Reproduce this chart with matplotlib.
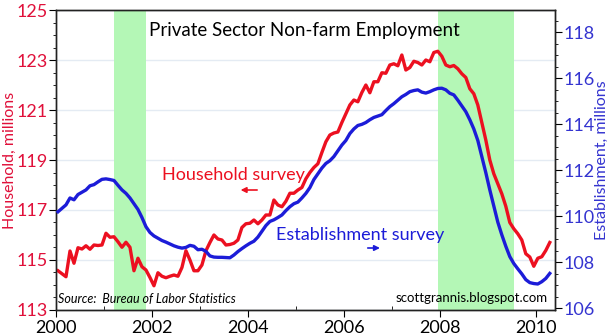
import numpy as np
import pandas as pd
import matplotlib
matplotlib.use('Agg')
import matplotlib.pyplot as plt
from matplotlib.ticker import MultipleLocator

plt.rcParams['font.family'] = ['Lato', 'DejaVu Sans']

# Meses: jan/2000 a abr/2010
meses = pd.date_range('2000-01-01', '2010-04-01', freq='MS')
anos = meses.year + (meses.month - 0.5) / 12

# Household survey (milhoes) - eixo esquerdo
household = [
    114.57, 114.45, 114.33, 115.36, 114.87, 115.49, 115.44, 115.57, 115.43, 115.60, 115.58, 115.60,
    116.07, 115.91, 115.93, 115.73, 115.51, 115.71, 115.51, 114.57, 115.07, 114.73, 114.60, 114.30,
    113.97, 114.49, 114.35, 114.29, 114.35, 114.40, 114.35, 114.70, 115.37, 115.00, 114.57, 114.57,
    114.80, 115.37, 115.70, 116.00, 115.84, 115.80, 115.60, 115.62, 115.67, 115.80, 116.30, 116.45,
    116.47, 116.60, 116.45, 116.60, 116.80, 116.80, 117.40, 117.20, 117.13, 117.35, 117.67, 117.67,
    117.80, 117.90, 118.25, 118.50, 118.70, 118.85, 119.30, 119.73, 120.00, 120.08, 120.12, 120.50,
    120.85, 121.20, 121.40, 121.33, 121.70, 122.00, 121.69, 122.13, 122.13, 122.49, 122.47, 122.80,
    122.85, 122.77, 123.20, 122.60, 122.70, 122.95, 122.90, 122.80, 123.00, 122.93, 123.30, 123.35,
    123.15, 122.80, 122.73, 122.78, 122.65, 122.45, 122.30, 121.85, 121.65, 121.20, 120.50, 119.80,
    119.00, 118.45, 118.05, 117.65, 117.15, 116.50, 116.25, 116.05, 115.80, 115.25, 115.12, 114.75,
    115.07, 115.13, 115.38, 115.70,
]

# Establishment survey (milhoes) - eixo direito
establishment = [
    110.20, 110.35, 110.50, 110.80, 110.72, 110.95, 111.05, 111.15, 111.33, 111.38, 111.50, 111.61,
    111.63, 111.60, 111.56, 111.35, 111.15, 111.00, 110.80, 110.55, 110.30, 109.95, 109.55, 109.30,
    109.15, 109.05, 108.95, 108.88, 108.80, 108.72, 108.66, 108.62, 108.65, 108.74, 108.70, 108.55,
    108.57, 108.48, 108.28, 108.23, 108.22, 108.22, 108.21, 108.20, 108.32, 108.47, 108.60, 108.72,
    108.83, 108.92, 109.10, 109.35, 109.60, 109.78, 109.85, 109.95, 110.06, 110.25, 110.42, 110.55,
    110.62, 110.80, 111.00, 111.25, 111.60, 111.85, 112.10, 112.30, 112.42, 112.60, 112.85, 113.10,
    113.30, 113.60, 113.80, 113.95, 114.00, 114.08, 114.20, 114.30, 114.36, 114.42, 114.60, 114.77,
    114.90, 115.05, 115.20, 115.30, 115.42, 115.47, 115.50, 115.40, 115.36, 115.42, 115.50, 115.56,
    115.57, 115.50, 115.35, 115.28, 115.05, 114.80, 114.55, 114.20, 113.80, 113.30, 112.60, 111.90,
    111.15, 110.45, 109.75, 109.20, 108.70, 108.25, 107.95, 107.72, 107.50, 107.25, 107.12, 107.08,
    107.06, 107.16, 107.30, 107.52,
]

# Recessoes
recessoes = [(2001.2, 2001.88), (2007.97, 2009.55)]

# Marcas dos eixos
ticks_x = [2000, 2002, 2004, 2006, 2008, 2010]
ticks_esq = [113, 115, 117, 119, 121, 123, 125]
ticks_dir = [106, 108, 110, 112, 114, 116, 118]

vermelho = '#ec1020'
azul = '#1c1cd8'
rot_vermelho = '#e0103a'
rot_azul = '#3434d0'

fig = plt.figure(figsize=(6.1, 3.36), dpi=100)
ax = fig.add_axes([0.0918, 0.0774, 0.818, 0.8928])
ax2 = ax.twinx()

for ini, fim in recessoes:
    ax.axvspan(ini, fim, color='#b4f7b6', zorder=1, lw=0)

ax.plot(anos, household, color=vermelho, lw=2.4, zorder=3)
ax2.plot(anos, establishment, color=azul, lw=2.4, zorder=3)

ax.set_xlim(2000, 2010.4)
ax.set_ylim(113, 125)
ax2.set_ylim(105.93, 118.97)

ax.set_xticks(ticks_x)
ax.xaxis.set_minor_locator(MultipleLocator(1))
ax.set_yticks(ticks_esq)
ax.yaxis.set_minor_locator(MultipleLocator(0.5))
ax2.set_yticks(ticks_dir)
ax2.yaxis.set_minor_locator(MultipleLocator(0.5))

ax.grid(axis='y', which='major', color='#e4ebf3', lw=1, zorder=0)
ax.set_axisbelow(True)

ax.tick_params(axis='x', which='major', length=5, labelsize=13, direction='out', pad=2)
ax.tick_params(axis='x', which='minor', length=3, direction='in')
ax.tick_params(axis='y', which='major', length=5, labelsize=13, labelcolor=rot_vermelho, pad=1)
ax.tick_params(axis='y', which='minor', length=2)
ax2.tick_params(axis='y', which='major', length=5, labelsize=13, labelcolor=rot_azul, pad=1)
ax2.tick_params(axis='y', which='minor', length=2)

ax.set_ylabel('Household, millions', color=rot_vermelho, fontsize=11.5, labelpad=0)
ax2.set_ylabel('Establishment, millions', color=rot_azul, fontsize=11.5, labelpad=0)

for sp in list(ax.spines.values()) + list(ax2.spines.values()):
    sp.set_color('#222222')
    sp.set_linewidth(1)

ax.text(2005.17, 124.2, 'Private Sector Non-farm Employment', fontsize=13.5,
        ha='center', va='center', zorder=5)
ax.text(2003.7, 118.4, 'Household survey', fontsize=13, color=vermelho,
        ha='center', va='center', zorder=5)
ax.annotate('', xy=(2003.79, 117.8), xytext=(2004.25, 117.8),
            arrowprops=dict(arrowstyle='-|>', color=vermelho, lw=1.2, mutation_scale=8), zorder=5)
ax.text(2006.33, 116.0, 'Establishment survey', fontsize=13, color=azul,
        ha='center', va='center', zorder=5)
ax.annotate('', xy=(2006.81, 115.48), xytext=(2006.44, 115.48),
            arrowprops=dict(arrowstyle='-|>', color=azul, lw=1.2, mutation_scale=8), zorder=5)

ax.text(0.005, 0.035, 'Source:  Bureau of Labor Statistics', transform=ax.transAxes,
        fontsize=9, style='italic', ha='left', va='center', zorder=5)
ax.text(0.985, 0.04, 'scottgrannis.blogspot.com', transform=ax.transAxes,
        fontsize=9.5, ha='right', va='center', zorder=5)

plt.savefig('out.png', dpi=100)
